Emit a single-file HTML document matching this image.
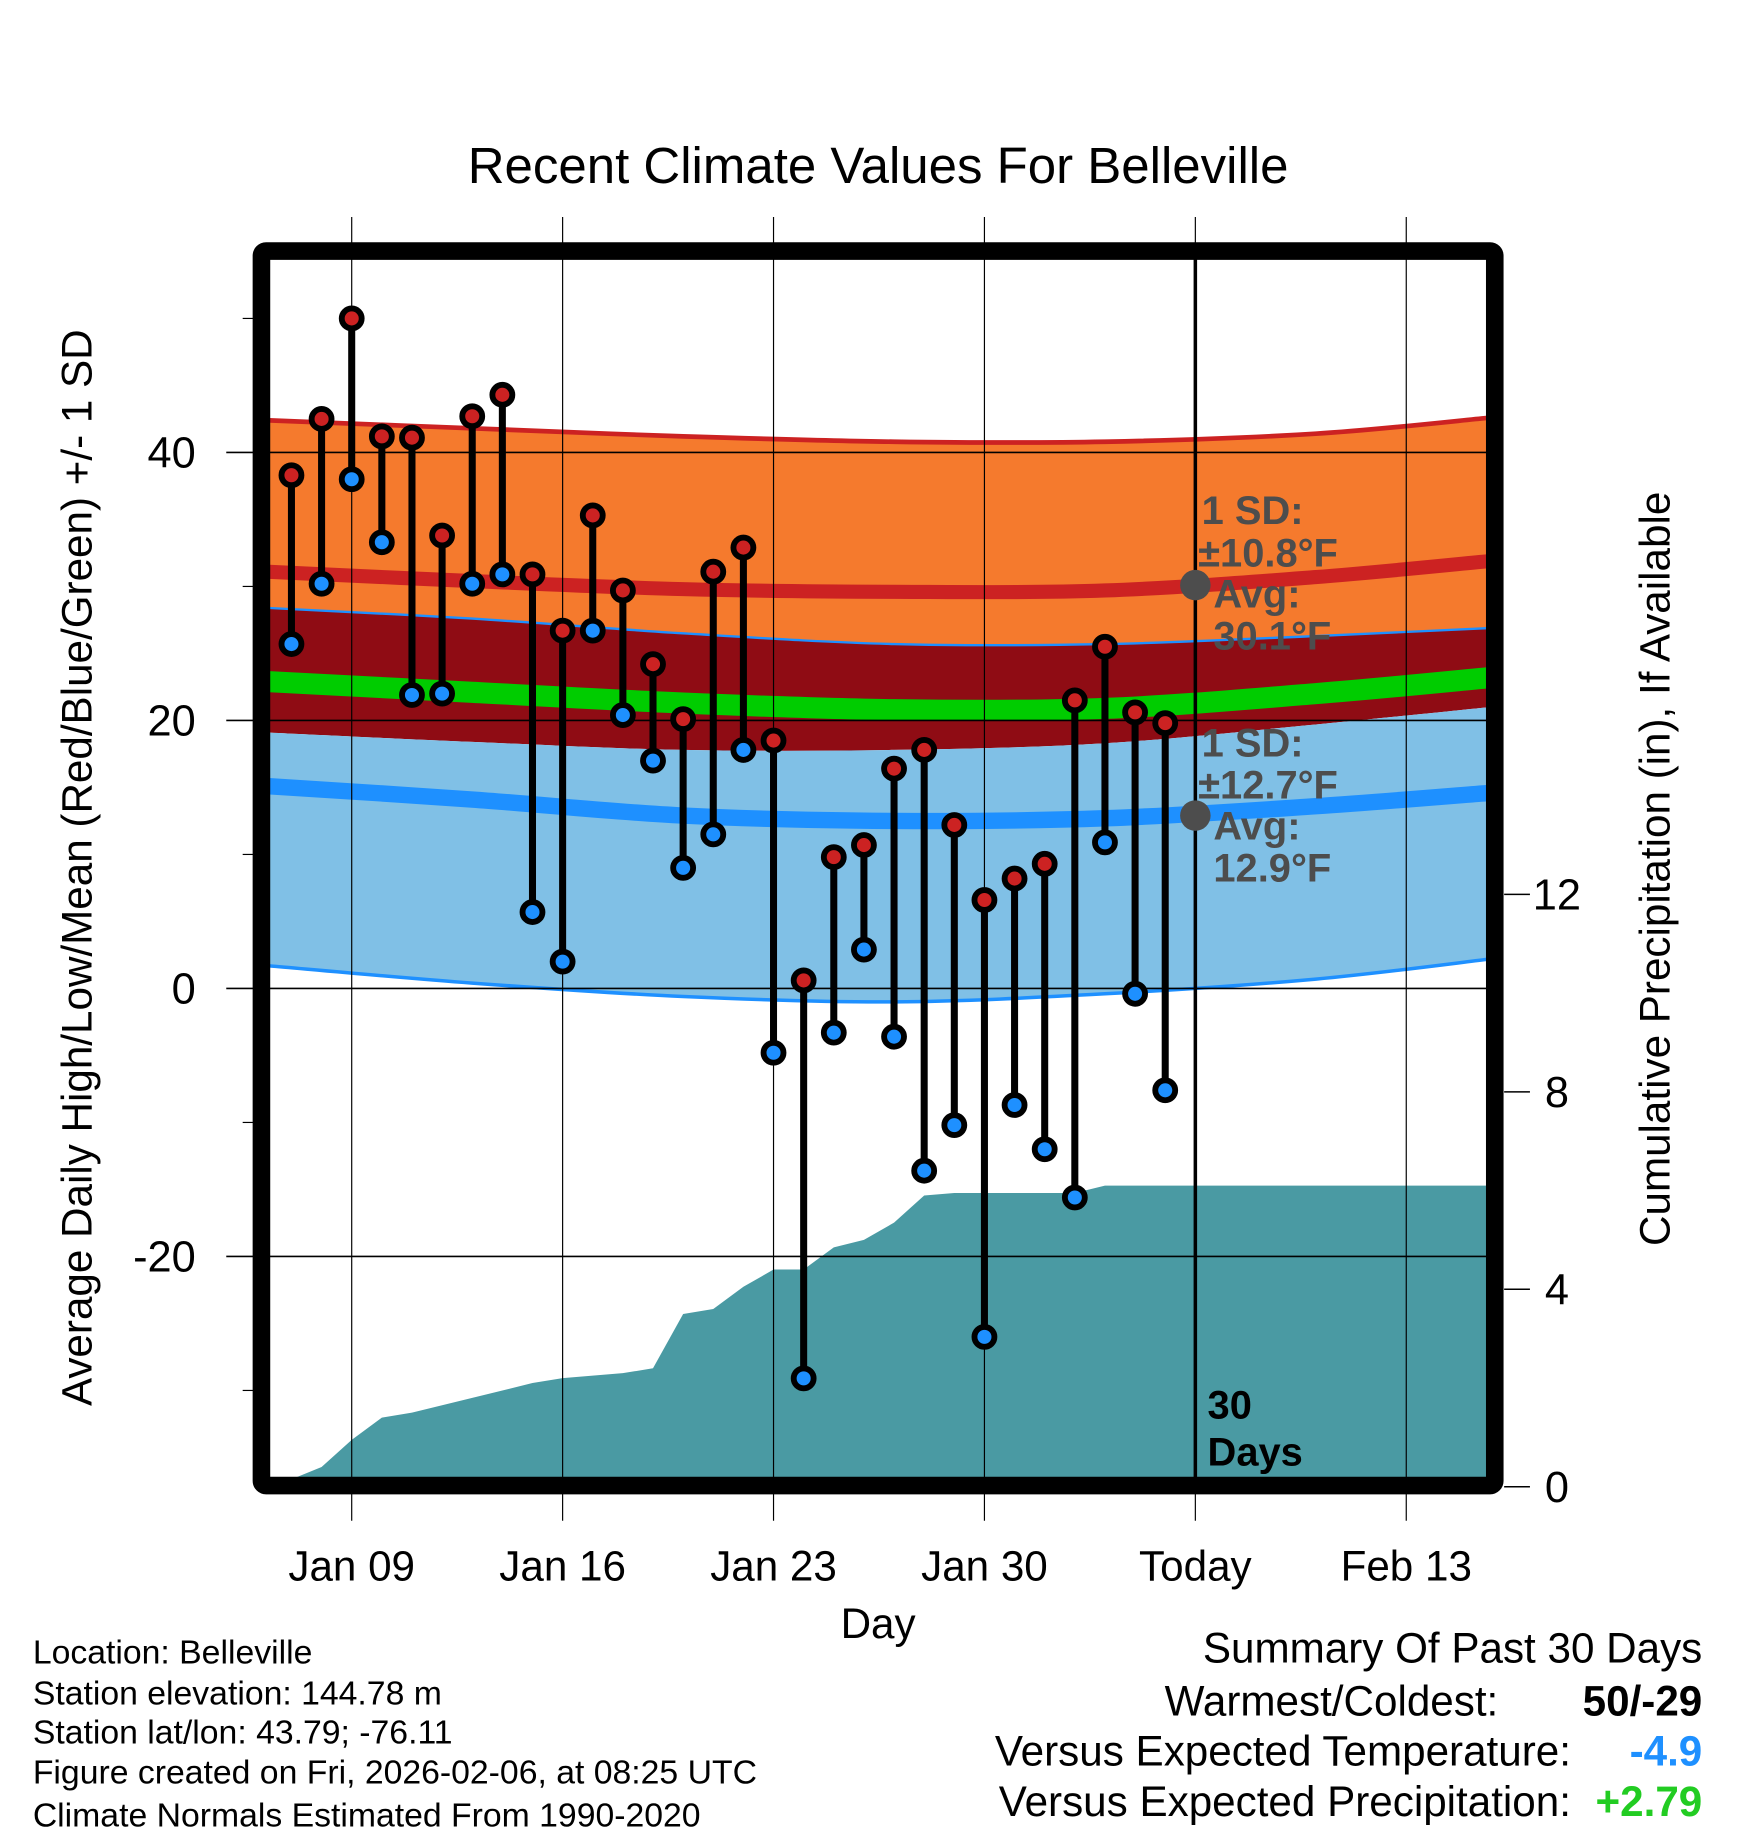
<!DOCTYPE html>
<html><head><meta charset="utf-8"><style>
html,body{margin:0;padding:0;background:#fff;}
svg{display:block;font-family:"Liberation Sans",Arial,sans-serif;}
</style></head><body>
<svg id="chart" xmlns="http://www.w3.org/2000/svg" width="1748" height="1828" viewBox="0 0 1491 1559">
<text x="749" y="156" font-size="43.5" text-anchor="middle">Recent Climate Values For Belleville</text>
<g id="bands"></g>
<g id="precip"></g>
<g id="grid"></g>
<g id="marks"></g>
<g id="frame"></g>
<g id="labels"></g>
<text transform="translate(78,740) rotate(-90)" font-size="36" text-anchor="middle">Average Daily High/Low/Mean (Red/Blue/Green) +/- 1 SD</text>
<text transform="translate(1424,741) rotate(-90)" font-size="36" text-anchor="middle">Cumulative Precipitation (in), If Available</text>
<text x="749" y="1397" font-size="36" text-anchor="middle">Day</text>
<g font-size="28.8">
<text x="28" y="1419">Location: Belleville</text>
<text x="28" y="1454">Station elevation: 144.78 m</text>
<text x="28" y="1487">Station lat/lon: 43.79; -76.11</text>
<text x="28" y="1521">Figure created on Fri, 2026-02-06, at 08:25 UTC</text>
<text x="28" y="1558">Climate Normals Estimated From 1990-2020</text>
</g>
<g font-size="36" text-anchor="end">
<text x="1452" y="1418">Summary Of Past 30 Days</text>
<text x="1278" y="1463">Warmest/Coldest:</text>
<text x="1452" y="1463" font-weight="bold">50/-29</text>
<text x="1340" y="1506">Versus Expected Temperature:</text>
<text x="1452" y="1506" font-weight="bold" fill="#1e90ff">-4.9</text>
<text x="1340" y="1549">Versus Expected Precipitation:</text>
<text x="1452" y="1549" font-weight="bold" fill="#22cc22">+2.79</text>
</g>
</svg>
<script>
// data
const days = [7,8,9,10,11,12,13,14,15,16,17,18,19,20,21,22,23,24,25,26,27,28,29,30,31,32,33,34,35,36];
const highs = [38.3,42.5,50,41.2,41.1,33.8,42.7,44.3,30.9,26.7,35.3,29.7,24.2,20.1,31.1,32.9,18.5,0.6,9.8,10.7,16.4,17.8,12.2,6.6,8.2,9.3,21.5,25.5,20.6,19.8];
const lows = [25.7,30.2,38,33.3,21.9,22,30.2,30.9,5.7,2,26.7,20.4,17,9,11.5,17.8,-4.8,-29.1,-3.3,2.9,-3.6,-13.6,-10.2,-26,-8.7,-12,-15.6,10.9,-0.4,-7.6];
const precip = [0.15,0.4,0.95,1.4,1.5,1.65,1.8,1.95,2.1,2.2,2.25,2.3,2.4,3.5,3.6,4.05,4.4,4.4,4.85,5.0,5.35,5.9,5.95,5.95,5.95,5.95,5.95,6.1,6.1,6.1];
const normDays = [6.2,13,20,27,34,41,46.8];
const hiUpper = [42.4,41.8,41.2,40.8,40.8,41.4,42.6];
const hiMean = [31.1,30.4,29.8,29.6,29.7,30.7,31.9];
const hiLower = [28.4,27.6,26.5,25.7,25.7,26.3,26.9];
const avgMean = [22.9,22.1,21.3,20.8,20.9,22.0,23.2];
const loUpper = [19.1,18.4,17.8,17.8,18.3,19.7,21.0];
const loMean = [15.1,14.1,12.9,12.5,12.7,13.6,14.6];
const loLower = [1.7,0.4,-0.6,-1.0,-0.4,0.7,2.2];
const yTicks = [40,20,0,-20];
const yMinor = [50,30,10,-10,-30];
const pTicks = [0,4,8,12];
const xTickDays = [9,16,23,30,37,44];
const xTickLabels = ["Jan 09","Jan 16","Jan 23","Jan 30","Today","Feb 13"];
const todayDay = 37;

const NS="http://www.w3.org/2000/svg";
const X0=230,X1=1268,Y0=220,Y1=1260;
const x=d=>300+(d-9)*25.7;
const y=v=>843-11.43*v;
const yp=p=>1268-42.1*p;
function mk(tag,attrs,parent){const e=document.createElementNS(NS,tag);for(const k in attrs)e.setAttribute(k,attrs[k]);parent.appendChild(e);return e;}
function smooth(pts){let d=`M${pts[0][0]},${pts[0][1]}`;for(let i=0;i<pts.length-1;i++){const p0=pts[Math.max(0,i-1)],p1=pts[i],p2=pts[i+1],p3=pts[Math.min(pts.length-1,i+2)];d+=` C${p1[0]+(p2[0]-p0[0])/6},${p1[1]+(p2[1]-p0[1])/6} ${p2[0]-(p3[0]-p1[0])/6},${p2[1]-(p3[1]-p1[1])/6} ${p2[0]},${p2[1]}`;}return d;}
const ptsOf=arr=>normDays.map((d,i)=>[x(d),y(arr[i])]);
function band(top,bot){const a=smooth(ptsOf(top));const b=ptsOf(bot).reverse();return a+" L"+smooth(b).slice(1)+" Z";}

const svg=document.getElementById('chart');
const cp=mk('clipPath',{id:'pc'},svg);
mk('rect',{x:X0,y:Y0,width:X1-X0,height:Y1-Y0},cp);

const B=document.getElementById('bands');B.setAttribute('clip-path','url(#pc)');
let e;
e=mk('path',{d:band(hiUpper,hiLower),fill:'#f57a2d'},B);


e=mk('path',{d:band(hiLower,loUpper),fill:'#8f0c14'},B);


e=mk('path',{d:band(loUpper,loLower),fill:'#80c0e6'},B);


const lines=[[hiUpper,'#cc2222',4,'high-upper-line'],[hiMean,'#cc2222',12,'high-mean-line'],[hiLower,'#1e90ff',2,'high-lower-line'],[avgMean,'#00cc00',18,'avg-mean-line'],[loMean,'#1e90ff',14,'low-mean-line'],[loLower,'#1e90ff',3,'low-lower-line']];
lines.forEach(l=>{
 e=mk('path',{d:smooth(ptsOf(l[0])),fill:'none',stroke:l[1],'stroke-width':l[2]},B);
 
 
});

// precip
const P=document.getElementById('precip');P.setAttribute('clip-path','url(#pc)');
let pd=`M${x(days[0])-10},${yp(0)}`;
days.forEach((d,i)=>{pd+=` L${x(d)},${yp(precip[i])}`;});
pd+=` L${X1},${yp(precip[precip.length-1])} L${X1},${Y1+5} L${x(days[0])-10},${Y1+5} Z`;
e=mk('path',{d:pd,fill:'#4a9aa3'},P);



// grid
const G=document.getElementById('grid');
xTickDays.forEach((d,i)=>{
 e=mk('line',{x1:x(d),x2:x(d),y1:185,y2:1297,stroke:'#000','stroke-width':1},G);
 
 
});
yTicks.forEach(v=>{
 e=mk('line',{x1:193,x2:X1,y1:y(v),y2:y(v),stroke:'#000','stroke-width':1.3},G);
 
 
});
yMinor.forEach(v=>{
 e=mk('line',{x1:207,x2:216,y1:y(v),y2:y(v),stroke:'#000','stroke-width':1},G);
 
 
});
pTicks.forEach(p=>{
 e=mk('line',{x1:1283,x2:1305,y1:yp(p),y2:yp(p),stroke:'#000','stroke-width':1.3},G);
 
 
});
e=mk('line',{x1:x(todayDay),x2:x(todayDay),y1:Y0,y2:Y1,stroke:'#000','stroke-width':3},G);



// marks
const M=document.getElementById('marks');
days.forEach((d,i)=>{
 e=mk('line',{x1:x(d),x2:x(d),y1:y(highs[i]),y2:y(lows[i]),stroke:'#000','stroke-width':6},M);
 
 
});
days.forEach((d,i)=>{
 e=mk('circle',{cx:x(d),cy:y(highs[i]),r:8.5,fill:'#cc2222',stroke:'#000','stroke-width':5},M);
 
 
 e=mk('circle',{cx:x(d),cy:y(lows[i]),r:8.5,fill:'#1e90ff',stroke:'#000','stroke-width':5},M);
 
 
});
// annotations
const ann=[[30.1,"±10.8°F","30.1°F",447],[12.9,"±12.7°F","12.9°F",645]];
ann.forEach(a=>{
 e=mk('circle',{cx:x(todayDay),cy:y(a[0]),r:13,fill:'#4d4d4d'},M);
 
 
 [["1 SD:",1025,a[3]],[a[1],1022,a[3]+36],["Avg:",1035,a[3]+71],[a[2],1035,a[3]+107]].forEach(t=>{
  e=mk('text',{x:t[1],y:t[2],'font-size':34,'font-weight':'bold',fill:'#4d4d4d'},M);
  e.textContent=t[0];
  
  
 });
});
[["30",1210],["Days",1250]].forEach(t=>{
 e=mk('text',{x:1030,y:t[1],'font-size':34,'font-weight':'bold'},M);
 e.textContent=t[0];
 
 
});

// frame
const F=document.getElementById('frame');
e=mk('rect',{x:223,y:214,width:1052,height:1053,fill:'none',stroke:'#000','stroke-width':15,rx:4},F);



// labels
const L=document.getElementById('labels');
yTicks.forEach(v=>{
 e=mk('text',{x:167,y:y(v)+13,'font-size':37,'text-anchor':'end'},L);
 e.textContent=String(v);
 
 
});
pTicks.forEach(p=>{
 e=mk('text',{x:1328,y:yp(p)+13,'font-size':37,'text-anchor':'middle'},L);
 e.textContent=String(p);
 
 
});
xTickDays.forEach((d,i)=>{
 e=mk('text',{x:x(d),y:1348,'font-size':36,'text-anchor':'middle'},L);
 e.textContent=xTickLabels[i];
 
 
});
</script>
</body></html>
